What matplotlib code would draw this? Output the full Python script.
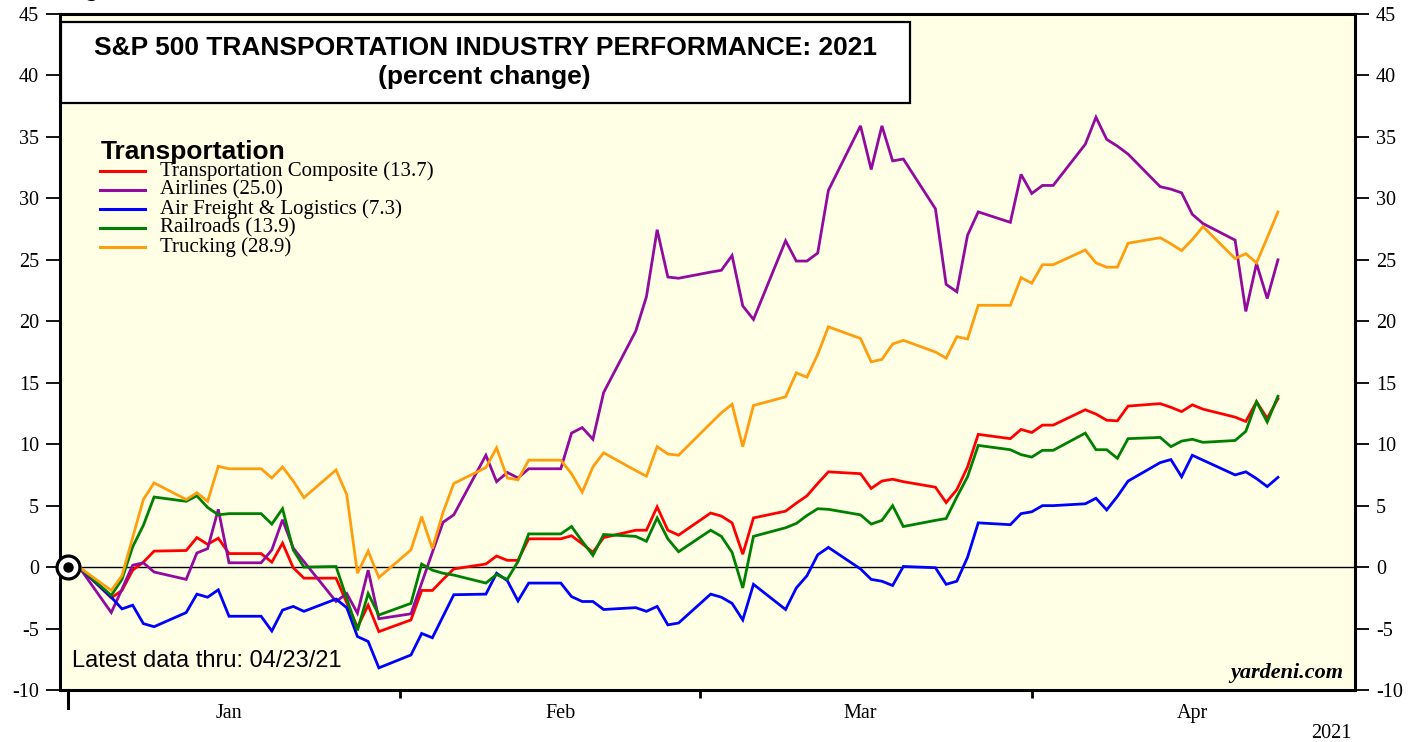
import numpy as np
import pandas as pd
import matplotlib
matplotlib.use("Agg")
import matplotlib.pyplot as plt
import matplotlib.dates as mdates
import matplotlib.transforms as mtransforms
from matplotlib.patches import Rectangle

plt.rcParams['font.family'] = ['Liberation Serif', 'DejaVu Serif']
plt.rcParams['axes.unicode_minus'] = False

# =====================================================
# DATA  (percent change since 12/31/20, business days)
# =====================================================

dates = pd.bdate_range("2020-12-31", "2021-04-23")

composite = [
    0.0, 0.0,
    -2.5, -1.9, -0.25, 0.4, 1.3,
    1.35, 2.4, 1.85, 2.35, 1.1,
    1.1, 0.4, 1.95, -0.05, -0.9,
    -0.9, -2.9, -4.9, -3.1, -5.25,
    -4.3, -1.9, -1.9, -1.0, -0.15,
    0.25, 0.9, 0.55, 0.55, 2.3,
    2.3, 2.55, 1.9, 1.2, 2.4,
    3.0, 3.0, 4.9, 3.0, 2.6,
    4.4, 4.15, 3.6, 1.05, 4.0,
    4.55, 5.2, 5.8, 6.8, 7.75,
    7.6, 6.4, 7.0, 7.15, 6.95,
    6.5, 5.25, 6.3, 8.15, 10.8,
    10.45, 11.2, 10.95, 11.55, 11.55,
    12.8, 12.45, 11.95, 11.9, 13.1,
    13.3, 13.0, 12.65, 13.2, 12.85,
    12.2, 11.85, 13.45, 12.1, 13.7,
]

airlines = [
    0.0, 0.0,
    -3.7, -1.8, 0.15, 0.35, -0.4,
    -1.0, 1.15, 1.5, 4.7, 0.35,
    0.35, 1.4, 3.85, 1.55, 0.45,
    -2.8, -2.15, -3.75, -0.25, -4.2,
    -3.8, -1.3, 1.2, 3.65, 4.25,
    9.1, 6.95, 7.7, 7.25, 8.0,
    8.0, 10.9, 11.35, 10.4, 14.2,
    19.2, 22.0, 27.45, 23.6, 23.5,
    24.0, 24.15, 25.35, 21.25, 20.15,
    26.55, 24.9, 24.9, 25.55, 30.65,
    35.9, 32.35, 35.9, 33.05, 33.2,
    29.15, 23.0, 22.4, 27.0, 28.9,
    28.05, 31.95, 30.4, 31.05, 31.05,
    34.4, 36.6, 34.8, 34.25, 33.6,
    30.95, 30.75, 30.45, 28.7, 27.95,
    26.6, 20.8, 24.7, 21.85, 25.0,
]

air_freight = [
    0.0, 0.0,
    -2.45, -3.4, -3.1, -4.6, -4.85,
    -3.7, -2.2, -2.45, -1.85, -4.0,
    -4.0, -5.2, -3.5, -3.2, -3.6,
    -2.6, -3.3, -5.65, -6.05, -8.2,
    -7.15, -5.4, -5.75, -4.0, -2.25,
    -2.2, -0.5, -1.1, -2.75, -1.3,
    -1.3, -2.4, -2.8, -2.8, -3.45,
    -3.3, -3.6, -3.2, -4.7, -4.55,
    -2.2, -2.45, -2.95, -4.3, -1.4,
    -3.45, -1.7, -0.7, 1.0, 1.6,
    -0.15, -1.0, -1.15, -1.5, 0.05,
    -0.05, -1.4, -1.15, 0.8, 3.6,
    3.45, 4.35, 4.5, 5.0, 5.0,
    5.15, 5.6, 4.65, 5.75, 7.0,
    8.5, 8.75, 7.35, 9.1, 8.7,
    7.5, 7.75, 7.2, 6.55, 7.3,
]

railroads = [
    0.0, 0.0,
    -2.3, -1.0, 1.65, 3.4, 5.7,
    5.35, 5.8, 4.85, 4.25, 4.35,
    4.35, 3.5, 4.75, 1.4, 0.0,
    0.05, -2.55, -5.15, -2.15, -3.9,
    -2.95, 0.25, -0.25, -0.5, -0.65,
    -1.3, -0.6, -1.0, 0.45, 2.7,
    2.7, 3.3, 2.1, 0.95, 2.65,
    2.5, 2.1, 4.0, 2.3, 1.25,
    3.0, 2.5, 1.2, -1.7, 2.5,
    3.2, 3.55, 4.2, 4.75, 4.7,
    4.25, 3.5, 3.8, 5.0, 3.3,
    3.8, 3.95, 5.7, 7.35, 9.9,
    9.55, 9.15, 8.95, 9.5, 9.5,
    10.9, 9.55, 9.55, 8.85, 10.45,
    10.55, 9.8, 10.25, 10.4, 10.15,
    10.3, 11.05, 13.45, 11.8, 13.9,
]

trucking = [
    0.0, 0.0,
    -1.9, -0.7, 2.4, 5.5, 6.85,
    5.5, 6.05, 5.35, 8.2, 8.0,
    8.0, 7.25, 8.15, 7.0, 5.65,
    7.9, 5.9, -0.5, 1.3, -0.85,
    1.4, 4.1, 1.5, 4.45, 6.8,
    8.1, 9.7, 7.25, 7.1, 8.7,
    8.7, 7.6, 6.1, 8.15, 9.3,
    7.85, 7.4, 9.8, 9.2, 9.1,
    11.7, 12.55, 13.25, 9.8, 13.15,
    13.85, 15.8, 15.45, 17.3, 19.55,
    18.6, 16.7, 16.9, 18.15, 18.45,
    17.5, 17.0, 18.75, 18.55, 21.3,
    21.3, 23.55, 23.1, 24.6, 24.6,
    25.8, 24.75, 24.4, 24.4, 26.35,
    26.8, 26.3, 25.75, 26.65, 27.7,
    25.1, 25.5, 24.75, 26.8, 28.9,
]

series = [
    ("Transportation Composite (13.7)", composite, "#ff0000"),
    ("Airlines (25.0)", airlines, "#930a9f"),
    ("Air Freight & Logistics (7.3)", air_freight, "#0000ff"),
    ("Railroads (13.9)", railroads, "#008000"),
    ("Trucking (28.9)", trucking, "#ff9e0d"),
]

month_ends = pd.to_datetime(["2020-12-31", "2021-01-31", "2021-02-28", "2021-03-31"])
month_mids = pd.to_datetime(["2021-01-15", "2021-02-15", "2021-03-15", "2021-04-15"])
month_names = ["Jan", "Feb", "Mar", "Apr"]

# =====================================================
# FIGURE
# =====================================================

W, H = 1419, 742
fig = plt.figure(figsize=(W / 100, H / 100), dpi=100)
ax = fig.add_axes([60 / W, 1 - 690 / H, (1355 - 60) / W, (690 - 14) / H])
ax.set_facecolor("#ffffe6")

for s in ax.spines.values():
    s.set_linewidth(2.2)

for name, vals, col in series:
    ax.plot(dates, vals, color=col, lw=2.0, zorder=3, solid_joinstyle="miter")

ax.axhline(0, color="black", lw=1.0, zorder=2)

# start marker
ax.plot(dates[0], 0, marker="o", ms=16.5, mfc="white", mec="black",
        mew=2.3, zorder=6, clip_on=False)
ax.plot(dates[0], 0, marker="o", ms=6.5, mfc="black", mec="black",
        zorder=7, clip_on=False)

# axes limits
x0 = mdates.date2num(dates[0])
ax.set_xlim(x0 - 0.79, mdates.date2num(pd.Timestamp("2021-04-30")) + 0.2)
ax.set_ylim(-10, 45)

# y ticks on both sides
ax.set_yticks(np.arange(-10, 46, 5))
ax.tick_params(axis="y", direction="out", length=10, width=1.3,
               labelsize=14.5, left=True, right=True,
               labelleft=True, labelright=True, pad=5)

# x ticks: month ends (marks), mid-months (labels)
ax.set_xticks(mdates.date2num(month_ends))
ax.set_xticklabels([])
ax.set_xticks(mdates.date2num(month_mids), minor=True)
ax.set_xticklabels(month_names, minor=True)
ax.tick_params(axis="x", which="major", direction="out", length=6, width=2)
ax.tick_params(axis="x", which="minor", length=0, labelsize=14.5, pad=10)

# long tick at start
trans = mtransforms.blended_transform_factory(ax.transData, ax.transAxes)
ax.plot([x0, x0], [0, -18 / 676], transform=trans, color="black",
        lw=2.2, clip_on=False, zorder=8)

fig.text(1352 / W, 1 - 733 / H, "2021", ha="right", va="center", fontsize=14.5)

# =====================================================
# TITLE BOX
# =====================================================

ax.add_patch(Rectangle((0.001, (690 - 103) / 676), (910 - 61) / 1295, 81 / 676,
                       transform=ax.transAxes, facecolor="white",
                       edgecolor="black", lw=1.6, zorder=5))
ax.text((485 - 60) / 1295, (690 - 48) / 676,
        "S&P 500 TRANSPORTATION INDUSTRY PERFORMANCE: 2021",
        transform=ax.transAxes, ha="center", va="center", fontsize=19,
        fontweight="bold", family="Liberation Sans", zorder=6)
ax.text((484 - 60) / 1295, (690 - 77) / 676, "(percent change)",
        transform=ax.transAxes, ha="center", va="center", fontsize=19,
        fontweight="bold", family="Liberation Sans", zorder=6)

# "Figure" caption cut off at top edge, as in the source
fig.text(62 / W, 1 + 4 / H, "Figure 1.", ha="left", va="baseline",
         fontsize=18, fontweight="bold", family="Liberation Sans")

# =====================================================
# LEGEND (manual)
# =====================================================

ax.text((101 - 60) / 1295, (690 - 152) / 676, "Transportation",
        transform=ax.transAxes, ha="left", va="center", fontsize=19,
        fontweight="bold", family="Liberation Sans", zorder=6)

row_y = [171, 190, 209, 228, 247]
for (name, vals, col), yy in zip(series, row_y):
    ya = (690 - yy) / 676
    ax.plot([(100 - 60) / 1295, (145 - 60) / 1295], [ya, ya],
            transform=ax.transAxes, color=col, lw=2.2, zorder=6)
    ax.text((160 - 60) / 1295, ya, name, transform=ax.transAxes,
            ha="left", va="center", fontsize=15, zorder=6)

# =====================================================
# FOOTNOTES
# =====================================================

ax.text((72 - 60) / 1295, (690 - 661) / 676, "Latest data thru: 04/23/21",
        transform=ax.transAxes, ha="left", va="center", fontsize=17,
        family="Liberation Sans", zorder=6)
ax.text((1343 - 60) / 1295, (690 - 673) / 676, "yardeni.com",
        transform=ax.transAxes, ha="right", va="center", fontsize=16,
        fontweight="bold", style="italic", zorder=6)

fig.savefig("out.png", dpi=100)
